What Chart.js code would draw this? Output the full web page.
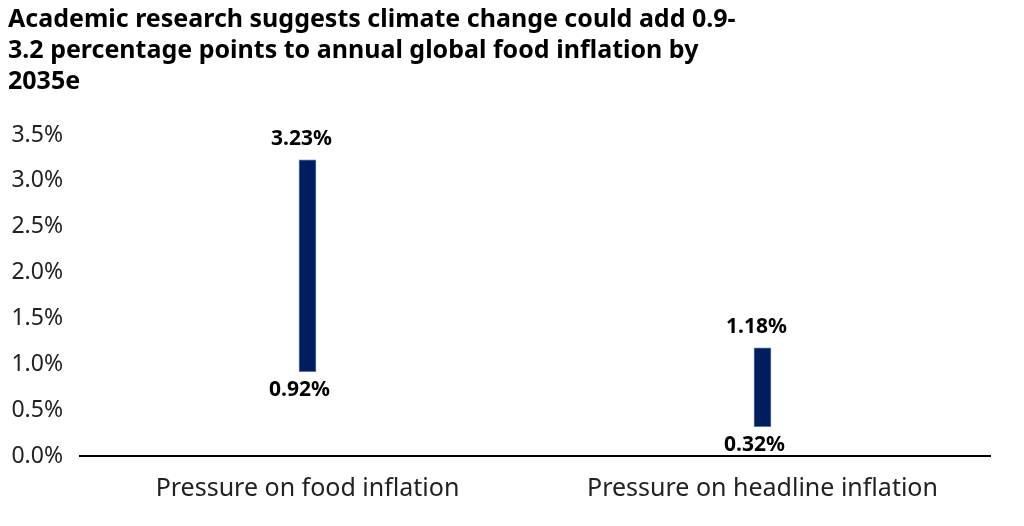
<!DOCTYPE html>
<html>
<head>
<meta charset="utf-8">
<script src="https://cdn.jsdelivr.net/npm/chart.js@4.4.0/dist/chart.umd.min.js"></script>
<style>
    html, body { margin: 0; padding: 0; background: #fff; }
    #wrap { width: 1024px; height: 526px; }
</style>
</head>
<body>
<div id="wrap"><canvas id="rangeChart" width="1024" height="526"></canvas></div>
<script>
// 카테고리 / 범위 값
const categories = ['Pressure on food inflation', 'Pressure on headline inflation'];
const lowValues = [0.92, 0.32];
const highValues = [3.23, 1.18];
const yTicks = [0, 0.5, 1.0, 1.5, 2.0, 2.5, 3.0, 3.5];
const titleLines = [
    'Academic research suggests climate change could add 0.9-',
    '3.2 percentage points to annual global food inflation by',
    '2035e'
];

const FONT = "'Noto Sans', 'Open Sans', sans-serif";

// 막대 위/아래 값 표시
const rangeLabels = {
    id: 'rangeLabels',
    afterDatasetsDraw(chart) {
        const ctx = chart.ctx;
        const meta = chart.getDatasetMeta(0);
        ctx.save();
        ctx.font = 'bold 21px ' + FONT;
        ctx.fillStyle = '#000';
        ctx.textAlign = 'center';
        ctx.textBaseline = 'middle';
        meta.data.forEach((bar, i) => {
            const yTop = chart.scales.y.getPixelForValue(highValues[i]);
            const yBot = chart.scales.y.getPixelForValue(lowValues[i]);
            ctx.fillText(highValues[i].toFixed(2) + '%', bar.x - 6, yTop - 21);
            ctx.fillText(lowValues[i].toFixed(2) + '%', bar.x - 8, yBot + 18);
        });
        ctx.restore();
    }
};

new Chart(document.getElementById('rangeChart'), {
    type: 'bar',
    data: {
        labels: categories,
        datasets: [{
            data: categories.map((c, i) => [lowValues[i], highValues[i]]),
            backgroundColor: '#001e5f',
            borderColor: '#5a78b0',
            borderWidth: 1,
            borderSkipped: false,
            barThickness: 17
        }]
    },
    options: {
        responsive: false,
        animation: false,
        layout: { padding: { left: 8, right: 34, top: 4, bottom: 4 } },
        plugins: {
            legend: { display: false },
            tooltip: { enabled: false },
            title: {
                display: true,
                text: titleLines,
                align: 'start',
                color: '#000',
                font: { family: FONT, size: 25, weight: 'bold', lineHeight: 1.24 },
                padding: { top: 0, bottom: 38 }
            }
        },
        scales: {
            x: {
                grid: { display: false, drawTicks: false },
                border: { display: true, color: '#000', width: 2 },
                ticks: { color: '#222', font: { family: FONT, size: 25 }, padding: 18 }
            },
            y: {
                min: 0,
                max: 3.5,
                afterBuildTicks(axis) {
                    axis.ticks = yTicks.map(v => ({ value: v }));
                },
                afterFit(axis) {
                    axis.width = 72;
                },
                grid: { display: false, drawTicks: false },
                border: { display: false },
                ticks: {
                    color: '#222',
                    padding: 17,
                    font: { family: FONT, size: 23 },
                    callback: v => v.toFixed(1) + '%'
                }
            }
        }
    },
    plugins: [rangeLabels]
});
</script>
</body>
</html>
